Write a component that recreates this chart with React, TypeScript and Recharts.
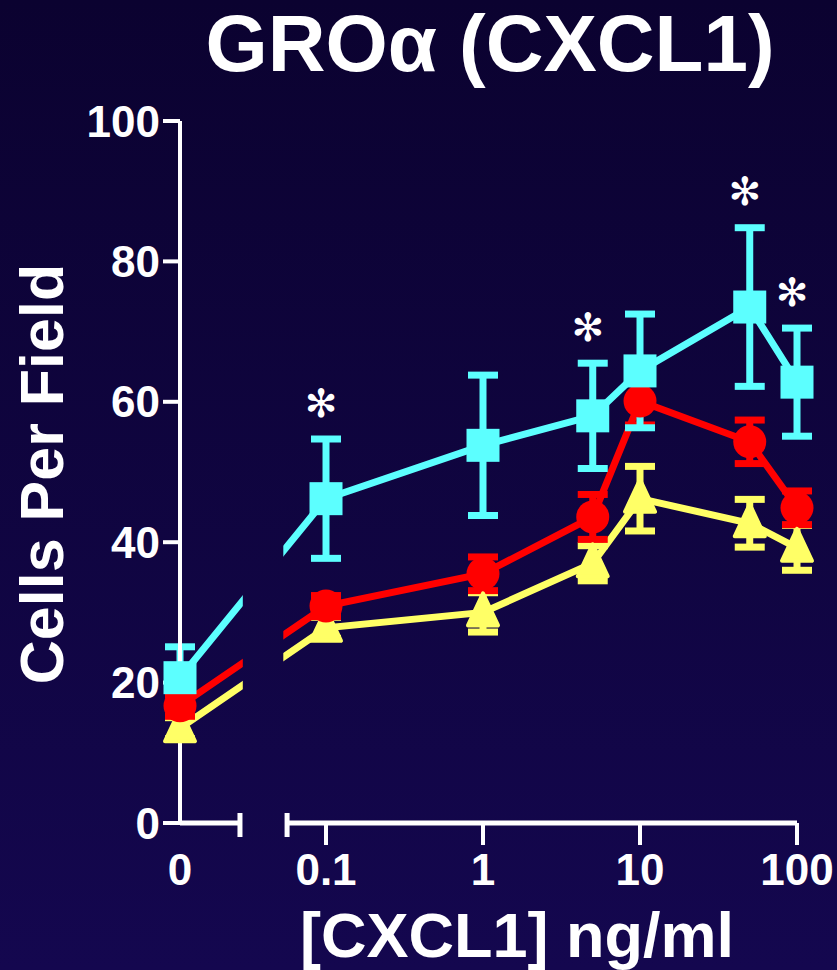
import React from "react";
import {
  LineChart, Line, XAxis, YAxis, ErrorBar, ReferenceLine, ReferenceArea, Customized,
} from "recharts";

// concentrations (ng/ml), 0 = unstimulated control drawn on its own axis piece
const DOSES = [0, 0.1, 1, 5, 10, 50, 100];
const X_TICK_POS = [-1, 0, 1, 2];
const X_TICK_LABELS = ["0.1", "1", "10", "100"];
const Y_TICKS = [0, 20, 40, 60, 80, 100];

const CYAN_MEAN = [20.7, 46.2, 53.8, 58.0, 64.4, 73.5, 62.8];
const CYAN_SEM = [4.4, 8.5, 10.0, 7.5, 8.1, 11.3, 7.7];
const RED_MEAN = [16.7, 30.9, 35.5, 43.6, 60.1, 54.3, 44.9];
const RED_SEM = [1.5, 1.5, 2.4, 3.2, 3.4, 3.1, 2.4];
const YELLOW_MEAN = [13.5, 27.8, 30.0, 37.0, 46.2, 42.7, 39.2];
const YELLOW_SEM = [1.5, 1.5, 2.8, 2.5, 4.6, 3.4, 3.2];
const SIGNIF = [false, true, false, true, false, true, true];

// axis layout (log10 units)
const ZERO_POS = -1.93;
const BREAK_L = -1.548;
const BREAK_R = -1.248;
const GAP_L = -1.53;
const GAP_R = -1.272;

const CYAN = "#5cffff";
const RED = "#ff0000";
const YELLOW = "#ffff66";
const BG_TOP = "#0b0230";
const BG_BOTTOM = "#14074f";
const FONT = "'Liberation Sans', Arial, sans-serif";

const data = DOSES.map((d, i) => ({
  pos: d === 0 ? ZERO_POS : Math.log10(d),
  cyan: CYAN_MEAN[i],
  cyanErr: CYAN_SEM[i],
  cyanTop: CYAN_MEAN[i] + CYAN_SEM[i],
  sig: SIGNIF[i],
  red: RED_MEAN[i],
  redErr: RED_SEM[i],
  yellow: YELLOW_MEAN[i],
  yellowErr: YELLOW_SEM[i],
}));

const XTick = ({ x, y, payload }: any) => {
  const v = payload.value;
  if (v === BREAK_L || v === BREAK_R) {
    return <line x1={x} x2={x} y1={y - 10} y2={y + 14} stroke="#fff" strokeWidth={5} />;
  }
  const label = v === ZERO_POS ? "0" : X_TICK_LABELS[X_TICK_POS.indexOf(v)];
  return (
    <g>
      {v !== ZERO_POS && <line x1={x} x2={x} y1={y} y2={y + 22} stroke="#fff" strokeWidth={4} />}
      <text x={x} y={y + 62} textAnchor="middle" fill="#fff" fontSize={44} fontWeight="bold" fontFamily={FONT}>
        {label}
      </text>
    </g>
  );
};

const SquareDot = (p: any) => (
  <rect key={`sq-${p.index}`} x={p.cx - 16.5} y={p.cy - 16.5} width={33} height={33} fill={CYAN} />
);
const CircleDot = (p: any) => <circle key={`ci-${p.index}`} cx={p.cx} cy={p.cy} r={16.5} fill={RED} />;
const TriangleDot = (p: any) => (
  <path
    key={`tr-${p.index}`}
    d={`M${p.cx},${p.cy - 19} L${p.cx + 15},${p.cy + 13} L${p.cx - 15},${p.cy + 13} Z`}
    fill={YELLOW}
    stroke={YELLOW}
    strokeWidth={4}
    strokeLinejoin="round"
  />
);

// significance marker above the cyan error bar
const StarDot = (p: any) => {
  if (!p.payload || !p.payload.sig) return <g key={`st-${p.index}`} />;
  return (
    <text
      key={`st-${p.index}`}
      x={p.cx - 5}
      y={p.cy - 36}
      textAnchor="middle"
      dominantBaseline="central"
      fill="#fff"
      fontSize={39}
      fontFamily="'DejaVu Sans'"
    >
      ✻
    </text>
  );
};

const Texts = () => (
  <g fontFamily={FONT} fontWeight="bold" fill="#fff">
    <text x={490} y={71} textAnchor="middle" fontSize={80}>GROα (CXCL1)</text>
    <text x={63} y={474} textAnchor="middle" fontSize={61} transform="rotate(-90, 63, 474)">
      Cells Per Field
    </text>
    <text x={517} y={957} textAnchor="middle" fontSize={63}>[CXCL1] ng/ml</text>
  </g>
);

export default function App() {
  return (
    <div
      style={{
        position: "absolute", left: 0, top: 0, width: 837, height: 970,
        background: `linear-gradient(to bottom, ${BG_TOP}, ${BG_BOTTOM})`,
      }}
    >
      <svg width={0} height={0} style={{ position: "absolute" }}>
        <defs>
          <linearGradient id="bgGrad" gradientUnits="userSpaceOnUse" x1={0} y1={0} x2={0} y2={970}>
            <stop offset="0%" stopColor={BG_TOP} />
            <stop offset="100%" stopColor={BG_BOTTOM} />
          </linearGradient>
        </defs>
      </svg>
      <LineChart width={837} height={970} data={data} margin={{ top: 121, right: 40, bottom: 47, left: 0 }}>
        <XAxis
          dataKey="pos"
          type="number"
          domain={[ZERO_POS, 2]}
          ticks={[ZERO_POS, BREAK_L, BREAK_R, ...X_TICK_POS]}
          interval={0}
          tick={<XTick />}
          tickLine={false}
          axisLine={false}
          tickSize={0}
          tickMargin={0}
          height={100}
        />
        <YAxis
          type="number"
          domain={[0, 100]}
          ticks={Y_TICKS}
          interval={0}
          width={180}
          tickSize={17}
          tickMargin={3}
          tick={{ fontSize: 44, fontWeight: "bold", fill: "#fff", fontFamily: FONT }}
          tickLine={{ stroke: "#fff", strokeWidth: 4 }}
          axisLine={{ stroke: "#fff", strokeWidth: 4 }}
        />
        <ReferenceLine segment={[{ x: ZERO_POS, y: 0 }, { x: BREAK_L, y: 0 }]} stroke="#fff" strokeWidth={5} />
        <ReferenceLine segment={[{ x: BREAK_R, y: 0 }, { x: 2, y: 0 }]} stroke="#fff" strokeWidth={5} />

        <Line dataKey="yellow" stroke={YELLOW} strokeWidth={7} dot={TriangleDot} activeDot={false} isAnimationActive={false}>
          <ErrorBar dataKey="yellowErr" direction="y" width={15} strokeWidth={7} stroke={YELLOW} />
        </Line>
        <Line dataKey="red" stroke={RED} strokeWidth={7} dot={CircleDot} activeDot={false} isAnimationActive={false}>
          <ErrorBar dataKey="redErr" direction="y" width={15} strokeWidth={7} stroke={RED} />
        </Line>
        <Line dataKey="cyan" stroke={CYAN} strokeWidth={7} dot={SquareDot} activeDot={false} isAnimationActive={false}>
          <ErrorBar dataKey="cyanErr" direction="y" width={15} strokeWidth={7} stroke={CYAN} />
        </Line>
        <Line dataKey="cyanTop" stroke="none" dot={StarDot} activeDot={false} isAnimationActive={false} />

        <ReferenceArea
          x1={GAP_L}
          x2={GAP_R}
          y1={4}
          y2={52}
          fill="url(#bgGrad)"
          fillOpacity={1}
          stroke="none"
          ifOverflow="visible"
          zIndex={450}
        />
        <Customized component={Texts} />
      </LineChart>
    </div>
  );
}
